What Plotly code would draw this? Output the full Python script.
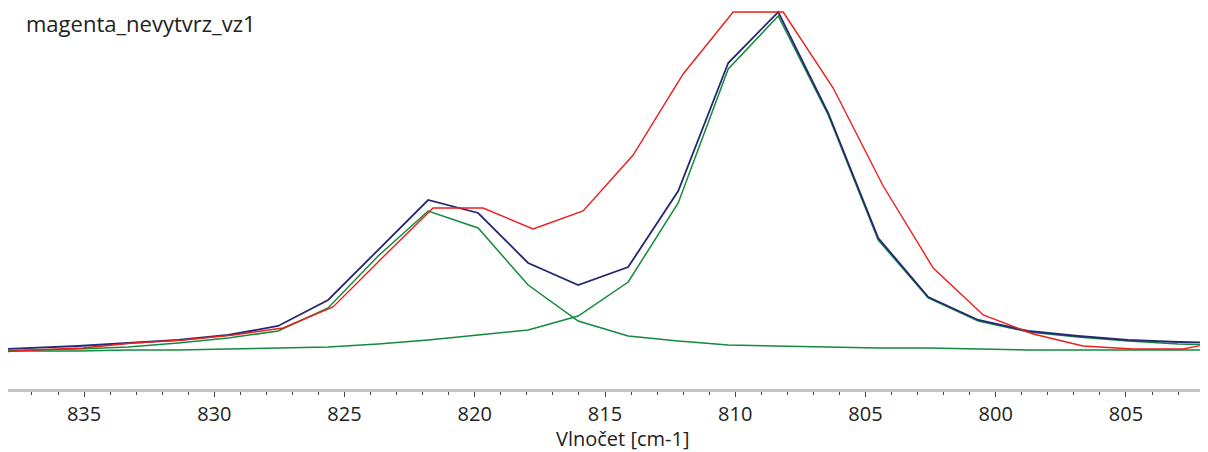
import plotly.graph_objects as go

# Wavenumbers [cm-1] of the fitted model / components
wn_fit = [839.06, 837.15, 835.23, 833.31, 831.39, 829.47, 827.55, 825.63, 823.71,
          821.79, 819.87, 817.95, 816.03, 814.11, 812.19, 810.27, 808.35, 806.43,
          804.51, 802.59, 800.67, 798.75, 796.84, 794.92, 793.00, 791.08]
# Wavenumbers [cm-1] of the measured spectrum
wn_meas = [838.87, 836.96, 835.04, 833.12, 831.20, 829.28, 827.36, 825.44, 823.52,
           821.60, 819.68, 817.76, 815.84, 813.92, 812.00, 810.08, 808.16, 806.24,
           804.32, 802.40, 800.48, 798.56, 796.65, 794.73, 792.81, 790.89]

# Intensities (arbitrary units)
measured = [-1, 2, 4, 9, 12, 17, 24, 45, 95, 144, 144, 123, 141, 197, 278, 340,
            340, 264, 166, 84, 37, 18, 6, 3, 3, 13]
fit_sum = [2, 4, 6, 9, 12, 17, 26, 52, 102, 152, 139, 89, 67, 85, 161, 289, 340,
           239, 114, 55, 32, 21, 16, 12, 10, 9]
component_1 = [1, 2, 3, 5, 9, 14, 21, 44, 96, 141, 124, 67, 31, 16, 11, 7, 6, 5, 4,
               4, 3, 2, 2, 2, 2, 2]
component_2 = [1, 1, 1, 2, 2, 3, 4, 5, 8, 12, 17, 22, 36, 70, 149, 283, 336, 237,
               112, 54, 31, 20, 15, 11, 8, 7]

tick_vals = [835, 830, 825, 820, 815, 810, 805, 800, 795]
tick_text = ["835", "830", "825", "820", "815", "810", "805", "800", "805"]

chart_title = "magenta_nevytvrz_vz1"
x_title = "Vlnočet [cm-1]"

GREEN = "#138a3c"
NAVY = "#262873"
RED = "#ee1c1c"

fig = go.Figure()
fig.add_trace(go.Scatter(x=wn_fit, y=component_2, mode="lines",
                         line=dict(color=GREEN, width=1.5), showlegend=False))
fig.add_trace(go.Scatter(x=wn_fit, y=component_1, mode="lines",
                         line=dict(color=GREEN, width=1.5), showlegend=False))
fig.add_trace(go.Scatter(x=wn_fit, y=fit_sum, mode="lines",
                         line=dict(color=NAVY, width=1.8), showlegend=False))
fig.add_trace(go.Scatter(x=wn_meas, y=measured, mode="lines",
                         line=dict(color=RED, width=1.4), showlegend=False))

# The page body adds an 8 px margin, so the figure is drawn 8 px smaller
OFF = 8
W, H = 1208 - OFF, 452 - OFF
ml, mr, mt, mb = 0, 0, 0, 63
plot_h = H - mt - mb
plot_w = W - ml - mr


def px_x(sx):
    return (sx - OFF - ml) / plot_w


def px_y(sy):
    return (plot_h - (sy - OFF - mt)) / plot_h


fig.update_layout(
    width=W, height=H,
    margin=dict(l=ml, r=mr, t=mt, b=mb),
    paper_bgcolor="white", plot_bgcolor="white",
    font=dict(family="Open Sans, Segoe UI, sans-serif", color="#222222", size=20),
    xaxis=dict(
        range=[837.92, 791.85],
        showgrid=False, zeroline=False,
        showline=True, linecolor="#c3c3c3", linewidth=3,
        tickmode="array", tickvals=tick_vals, ticktext=tick_text,
        ticks="outside", ticklen=5, tickwidth=1, tickcolor="#444444",
        tickfont=dict(size=20, color="#222222"),
        minor=dict(tickmode="array", tickvals=list(range(792, 838)),
                   ticks="outside", ticklen=3, tickwidth=1, tickcolor="#444444",
                   showgrid=False),
    ),
    yaxis=dict(range=[-37, 344], visible=False, showgrid=False, zeroline=False),
    annotations=[
        dict(text=chart_title, xref="paper", yref="paper",
             x=px_x(24), y=px_y(23),
             xanchor="left", yanchor="middle", showarrow=False,
             font=dict(size=22, color="#222222")),
        dict(text=x_title, xref="paper", yref="paper",
             x=px_x(622), y=px_y(438),
             xanchor="center", yanchor="middle", showarrow=False,
             font=dict(size=20, color="#222222")),
    ],
)

fig.write_html("out.html")
